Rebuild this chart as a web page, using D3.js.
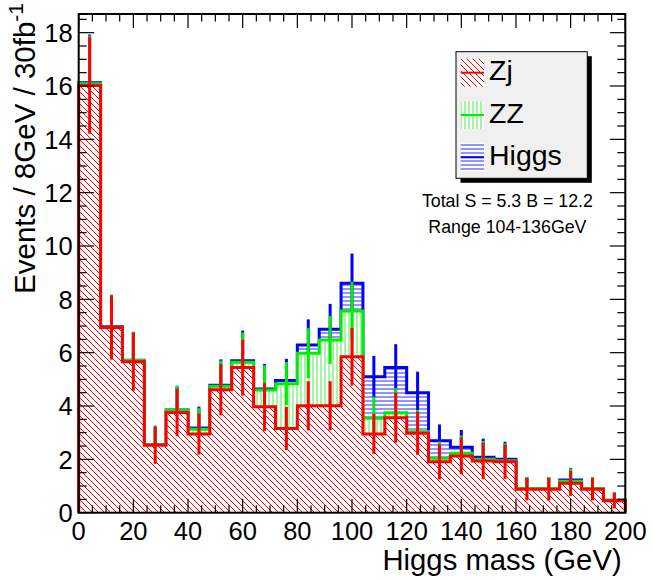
<!DOCTYPE html>
<html><head><meta charset="utf-8">
<script src="https://cdn.jsdelivr.net/npm/d3@7"></script>
<style>
html,body{margin:0;padding:0;background:#fff;}
svg{display:block;font-family:"Liberation Sans",Arial,Helvetica,sans-serif;}
</style></head>
<body><div id="chart"></div>
<script>
// ---- data ----
const massLow = [0,8,16,24,32,40,48,56,64,72,80,88,96,104,112,120,128,136,144,152,160,168,176,184,192];
const binWidth = 8;
const zj    = [16.02,6.94,5.66,2.53,3.76,2.95,4.61,5.44,3.97,3.16,4.01,4.01,5.85,2.95,3.56,2.98,1.91,2.13,1.94,1.91,0.88,0.88,1.10,0.88,0.45];
const zz    = [0.06,0.01,0.05,0.02,0.08,0.18,0.13,0.20,0.63,1.68,1.97,2.47,1.71,0.59,0.19,0.06,0.13,0.10,0.06,0.04,0.03,0.03,0.08,0.03,0.02];
const higgs = [0.04,0.02,0.01,0.00,0.01,0.05,0.04,0.06,0.04,0.12,0.31,0.40,1.04,1.56,1.69,1.46,0.66,0.22,0.08,0.05,0.00,0.00,0.05,0.00,0.00];
const errZj  = [1.81,1.20,1.09,0.70,0.89,0.77,0.96,1.05,0.90,0.81,0.92,0.92,1.08,0.75,0.94,0.81,0.66,0.69,0.68,0.64,0.42,0.42,0.47,0.42,0.29];
const errZZ  = [1.81,1.20,1.06,0.71,0.91,0.79,0.96,1.12,0.93,0.81,0.94,0.90,1.10,0.81,0.92,0.82,0.63,0.66,0.69,0.65,0.43,0.43,0.48,0.43,0.30];
const errTot = [1.81,1.20,1.06,0.71,0.91,0.80,0.97,1.13,0.94,0.81,0.96,0.95,1.12,0.78,0.88,0.79,0.61,0.65,0.70,0.66,0.43,0.43,0.45,0.43,0.30];
const xTicks = [0,20,40,60,80,100,120,140,160,180,200];
const yTicks = [0,2,4,6,8,10,12,14,16,18];
const legendLabels = ["Zj","ZZ","Higgs"];
const infoLines = ["Total S = 5.3 B = 12.2","Range 104-136GeV"];
const xTitle = "Higgs mass (GeV)";
const yTitle = "Events / 8GeV / 30fb";
const yTitleSup = "-1";

// ---- layout ----
const W = 654, H = 580;
const svg = d3.select("#chart").append("svg").attr("width", W).attr("height", H);
const x = d3.scaleLinear().domain([0, 200]).range([78.7, 625.3]);
const y = d3.scaleLinear().domain([0, 18.7]).range([512.7, 14]);

const defs = svg.append("defs");
function pattern(id, w, h, bgPath, color, sw) {
  const p = defs.append("pattern").attr("id", id).attr("patternUnits", "userSpaceOnUse")
    .attr("width", w).attr("height", h);
  p.append("rect").attr("width", w).attr("height", h).attr("fill", "#fff");
  p.append("path").attr("d", bgPath).attr("stroke", color).attr("stroke-width", sw).attr("fill", "none");
}
pattern("hRed", 6, 6, "M0,0L6,6M-1,5L1,7M5,-1L7,1", "#ff0000", 1.0);
pattern("hGreen", 4, 4, "M1,0L1,4", "#86f286", 1.5);
pattern("hBlue", 4, 4, "M0,1L4,1", "#7272ff", 1.5);

const stackZZ = zj.map((v, i) => v + zz[i]);
const stackTot = stackZZ.map((v, i) => v + higgs[i]);

function stepPoints(vals) {
  const pts = [[x(massLow[0]), y(0)]];
  vals.forEach((v, i) => {
    pts.push([x(massLow[i]), y(v)]);
    pts.push([x(massLow[i] + binWidth), y(v)]);
  });
  pts.push([x(massLow[massLow.length - 1] + binWidth), y(0)]);
  return pts;
}
const line = d3.line();

const layers = [
  {vals: stackTot, err: errTot, fill: "url(#hBlue)", color: "#0000ff"},
  {vals: stackZZ, err: errZZ, fill: "url(#hGreen)", color: "#00ee00"},
  {vals: zj, err: errZj, fill: "url(#hRed)", color: "#ff0000"}
];
layers.forEach(L => {
  const pts = stepPoints(L.vals);
  svg.append("path").attr("d", line(pts) + "Z").attr("fill", L.fill).attr("stroke", "none");
  svg.append("path").attr("d", line(pts)).attr("fill", "none").attr("stroke", L.color)
    .attr("stroke-width", 3).attr("stroke-linejoin", "miter");
  svg.append("g").selectAll("line").data(L.vals).join("line")
    .attr("x1", (d, i) => x(massLow[i] + binWidth / 2))
    .attr("x2", (d, i) => x(massLow[i] + binWidth / 2))
    .attr("y1", (d, i) => y(d + L.err[i]))
    .attr("y2", (d, i) => y(Math.max(0, d - L.err[i])))
    .attr("stroke", L.color).attr("stroke-width", 3);
});

// ---- axes / frame ----
const axG = svg.append("g").attr("stroke", "#000");
const xMinor = d3.range(0, 201, 5), yMinor = d3.range(0, 18.51, 0.5);
xMinor.forEach(v => {
  const major = xTicks.includes(v);
  const len = major ? 14 : 7.5;
  axG.append("line").attr("x1", x(v)).attr("x2", x(v)).attr("y1", y(0)).attr("y2", y(0) - len).attr("stroke-width", 1.2);
  axG.append("line").attr("x1", x(v)).attr("x2", x(v)).attr("y1", y(18.7)).attr("y2", y(18.7) + len).attr("stroke-width", 1.2);
});
yMinor.forEach(v => {
  const major = yTicks.includes(v);
  const len = major ? 15.5 : 8;
  axG.append("line").attr("y1", y(v)).attr("y2", y(v)).attr("x1", x(0)).attr("x2", x(0) + len).attr("stroke-width", 1.2);
  axG.append("line").attr("y1", y(v)).attr("y2", y(v)).attr("x1", x(200)).attr("x2", x(200) - len).attr("stroke-width", 1.2);
});
svg.append("rect").attr("x", x(0)).attr("y", y(18.7)).attr("width", x(200) - x(0)).attr("height", y(0) - y(18.7))
  .attr("fill", "none").attr("stroke", "#000").attr("stroke-width", 2);

svg.append("g").selectAll("text").data(xTicks).join("text")
  .attr("x", d => x(d)).attr("y", 540).attr("text-anchor", "middle")
  .attr("font-size", 25.5).text(d => d);
svg.append("g").selectAll("text").data(yTicks).join("text")
  .attr("x", 72.7).attr("y", d => y(d) + 9.2).attr("text-anchor", "end")
  .attr("font-size", 25.5).text(d => d);

svg.append("text").attr("x", 621.7).attr("y", 570).attr("text-anchor", "end")
  .attr("font-size", 29.3).text(xTitle);
const yt = svg.append("text").attr("transform", "translate(35,3) rotate(-90)").attr("text-anchor", "end")
  .attr("font-size", 29.5);
yt.append("tspan").text(yTitle);
yt.append("tspan").attr("dy", -12).attr("font-size", 21).text(yTitleSup);

// ---- legend ----
const lg = svg.append("g");
lg.append("rect").attr("x", 460.5).attr("y", 56.2).attr("width", 131.3).attr("height", 126.6).attr("fill", "#000");
lg.append("rect").attr("x", 456).attr("y", 51.7).attr("width", 131.3).attr("height", 126.6)
  .attr("fill", "#f0f0f0").attr("stroke", "#000").attr("stroke-width", 1);
const legFills = ["url(#hRed)", "url(#hGreen)", "url(#hBlue)"];
const legColors = ["#ff0000", "#00ee00", "#0000ff"];
legendLabels.forEach((lab, i) => {
  const cy = 72.7 + i * 42.3;
  lg.append("rect").attr("x", 460.7).attr("y", cy - 14).attr("width", 23.3).attr("height", 28).attr("fill", legFills[i]);
  lg.append("line").attr("x1", 460.7).attr("x2", 484).attr("y1", cy).attr("y2", cy)
    .attr("stroke", legColors[i]).attr("stroke-width", 2);
  lg.append("text").attr("x", 489).attr("y", cy + 7.5).attr("font-size", 28.5).text(lab);
});
svg.append("g").selectAll("text").data(infoLines).join("text")
  .attr("x", 507.4).attr("y", (d, i) => 206.7 + i * 26.6).attr("text-anchor", "middle")
  .attr("font-size", 17.8).text(d => d);
</script>
</body></html>
